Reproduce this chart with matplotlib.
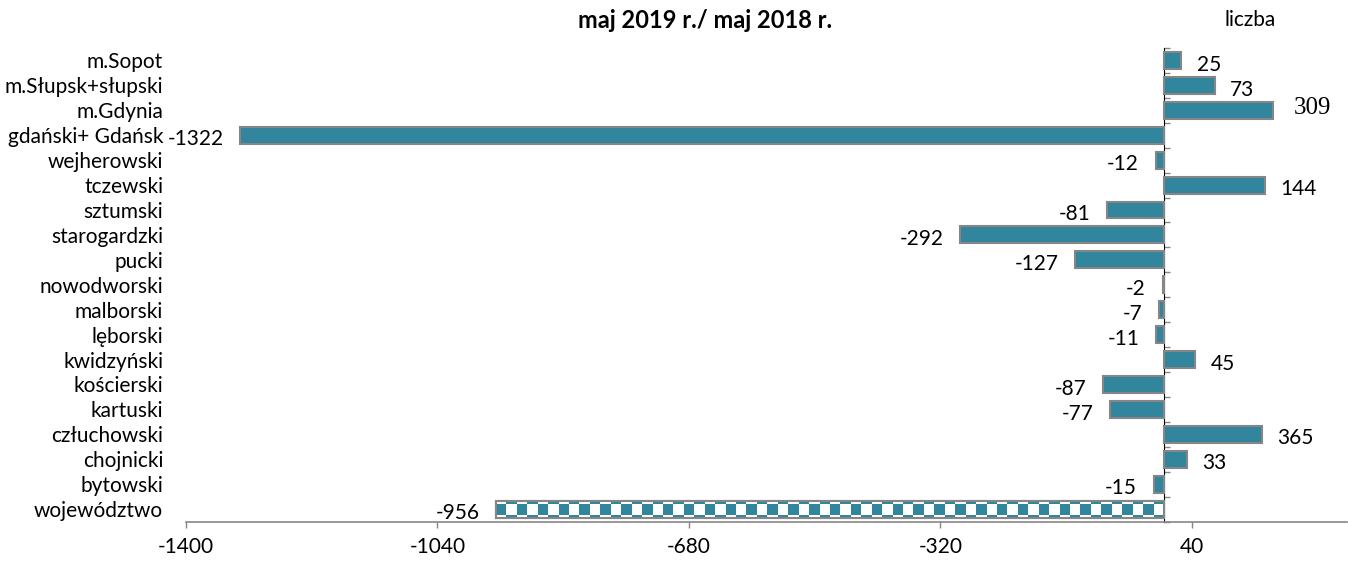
import numpy as np
import matplotlib
matplotlib.use('Agg')
import matplotlib.pyplot as plt

# categories from top to bottom
powiaty = ['m.Sopot', 'm.Słupsk+słupski', 'm.Gdynia', 'gdański+ Gdańsk', 'wejherowski',
           'tczewski', 'sztumski', 'starogardzki', 'pucki', 'nowodworski', 'malborski',
           'lęborski', 'kwidzyński', 'kościerski', 'kartuski', 'człuchowski', 'chojnicki',
           'bytowski', 'województwo']
# bar lengths as drawn in the picture
bar_values = [25, 73, 156, -1322, -12, 144, -81, -292, -127, -2, -7, -11, 45, -87, -77,
              140, 33, -15, -956]
# labels as printed next to the bars
bar_labels = ['25', '73', '309', '-1322', '-12', '144', '-81', '-292', '-127', '-2', '-7',
              '-11', '45', '-87', '-77', '365', '33', '-15', '-956']
x_ticks = [-1400, -1040, -680, -320, 40]

teal = '#31859C'
gray = '#868686'
font = ['Lato', 'DejaVu Sans']
plt.rcParams['font.family'] = font

fig = plt.figure(figsize=(13.48, 5.62), dpi=100)
ax = fig.add_axes([186 / 1348, 1 - 521.5 / 562, (1347 - 186) / 1348, (521.5 - 48) / 562])

y = np.arange(len(powiaty))
xmin, xmax = -1400, 262
ax.set_xlim(xmin, xmax)
ax.set_ylim(len(powiaty) - 0.5, -0.5)

bars = ax.barh(y, bar_values, height=0.68, color=teal, edgecolor=gray, linewidth=1.5, zorder=3)

# checkered fill for the last bar (województwo)
last = bars[-1]
bx0, by0 = last.get_x(), last.get_y()
bw, bh = last.get_width(), last.get_height()
ncol = int(round(abs(bw) / 15.0))
nrow = 3
ii, jj = np.indices((nrow, ncol))
checker = ((ii + jj) % 2).astype(float)
last.set_facecolor('white')
cmap = matplotlib.colors.ListedColormap(['white', teal])
im = ax.imshow(checker, cmap=cmap, aspect='auto', interpolation='nearest',
               extent=(bx0 + bw, bx0, by0 + bh / 2 + 0.63, by0 + bh / 2 - 0.63), zorder=3.5)
im.set_clip_path(last)
ax.barh(y[-1], bar_values[-1], height=0.68, color='none', edgecolor=gray, linewidth=1.5, zorder=4)

# value labels
for i, (v, lab) in enumerate(zip(bar_values, bar_labels)):
    if lab == '309':
        ax.annotate(lab, (v, i), xytext=(15, 2), textcoords='offset points',
                    ha='left', va='center', fontsize=18, family='Liberation Serif')
    elif v >= 0:
        ax.annotate(lab, (v, i), xytext=(11, -3), textcoords='offset points',
                    ha='left', va='center', fontsize=15)
    else:
        ax.annotate(lab, (v, i), xytext=(-12, -3), textcoords='offset points',
                    ha='right', va='center', fontsize=15)

# category labels on the far left
ax.set_yticks(y)
ax.set_yticklabels(powiaty, fontsize=15)
ax.tick_params(axis='y', length=0, pad=16.5)

# x axis
ax.set_xticks(x_ticks)
ax.set_xticklabels([str(t) for t in x_ticks], fontsize=15)
ax.tick_params(axis='x', direction='out', length=4, width=1, color=gray, pad=7)
for s in ['top', 'right', 'left']:
    ax.spines[s].set_visible(False)
ax.spines['bottom'].set_color(gray)
ax.spines['bottom'].set_linewidth(1.2)

# vertical axis at zero with small ticks between categories
zero_frac = (0 - xmin) / (xmax - xmin)
sec = ax.secondary_yaxis(zero_frac)
sec.set_yticks(np.arange(-0.5, len(powiaty), 1.0))
sec.set_yticklabels([])
sec.tick_params(direction='out', length=4, width=1, color=gray)
sec.spines['left'].set_color(gray)
sec.spines['left'].set_linewidth(1.5)
sec.spines['left'].set_zorder(5)

fig.text(705 / 1348, 1 - 20 / 562, 'maj 2019 r./ maj 2018 r.', ha='center', va='center',
         fontsize=17, fontweight='bold')
fig.text(1250 / 1348, 1 - 20 / 562, 'liczba', ha='center', va='center', fontsize=15)

fig.savefig('out.png', dpi=100)
